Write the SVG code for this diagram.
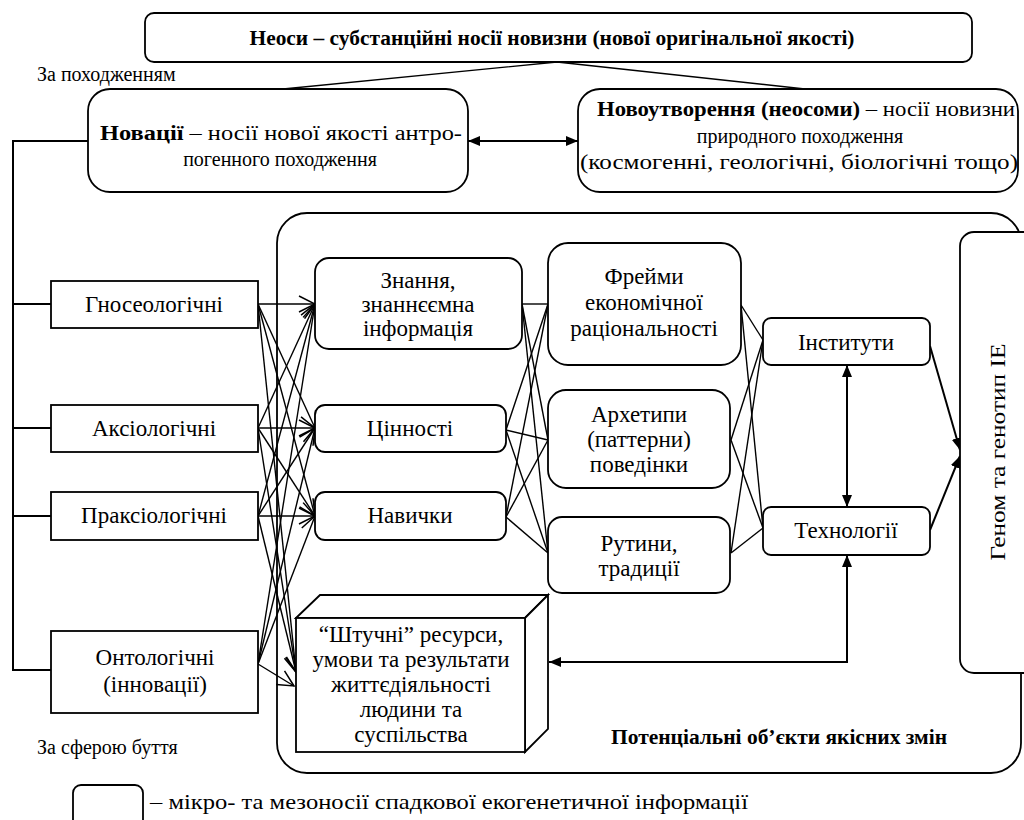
<svg xmlns="http://www.w3.org/2000/svg" width="1024" height="820" viewBox="0 0 1024 820" font-family="'Liberation Serif', 'Times New Roman', serif">
<style>
.b{fill:#fff;stroke:#000;stroke-width:1.8}
.t{font-family:"Liberation Serif","Times New Roman",serif;font-size:20px;fill:#000}
.m{font-size:23px}
.c{text-anchor:middle}
.bd{font-weight:bold}
.ln{fill:none;stroke:#000;stroke-width:1.4}
.lk{fill:none;stroke:#000;stroke-width:2}
</style>
<defs>
<marker id="oa" markerWidth="18" markerHeight="18" refX="17" refY="9" orient="auto" markerUnits="userSpaceOnUse"><path d="M1,1 L17,9 L1,17" fill="none" stroke="#000" stroke-width="1.5"/></marker>
<marker id="fa" markerWidth="12" markerHeight="10" refX="12" refY="5" orient="auto-start-reverse" markerUnits="userSpaceOnUse"><path d="M0,0 L12,5 L0,10 z" fill="#000"/></marker>
</defs>
<rect width="1024" height="820" fill="#fff"/>

<g id="container">
<rect x="277" y="213" width="744" height="560" rx="30" class="b" stroke-width="2"/>
<text x="779" y="744" class="t c bd" textLength="336" lengthAdjust="spacingAndGlyphs">Потенціальні об’єкти якісних змін</text>
</g>

<g id="connectors">
<path class="ln" d="M557,62 L283,89 M557,62 L805,89"/>
<path class="lk" d="M88,141 H13 V670 H51 M13,304 H51 M13,428 H51 M13,516 H51"/>
<line x1="468" y1="141" x2="578" y2="141" class="lk" marker-start="url(#fa)" marker-end="url(#fa)"/>
<g class="ln" marker-end="url(#oa)">
<line x1="258" y1="304" x2="315" y2="304"/>
<line x1="258" y1="304" x2="315" y2="428"/>
<line x1="258" y1="304" x2="315" y2="516"/>
<line x1="258" y1="304" x2="296" y2="672"/>
<line x1="258" y1="428" x2="315" y2="304"/>
<line x1="258" y1="428" x2="315" y2="428"/>
<line x1="258" y1="428" x2="315" y2="516"/>
<line x1="258" y1="428" x2="296" y2="672"/>
<line x1="258" y1="516" x2="315" y2="304"/>
<line x1="258" y1="516" x2="315" y2="428"/>
<line x1="258" y1="516" x2="315" y2="516"/>
<line x1="258" y1="516" x2="296" y2="672"/>
<line x1="258" y1="664" x2="315" y2="304"/>
<line x1="258" y1="664" x2="315" y2="428"/>
<line x1="258" y1="664" x2="315" y2="516"/>
<line x1="258" y1="664" x2="294" y2="686"/>
</g>
<g class="ln">
<line x1="522" y1="304" x2="548" y2="304"/>
<line x1="522" y1="304" x2="548" y2="440"/>
<line x1="522" y1="304" x2="548" y2="553"/>
<line x1="506" y1="430" x2="548" y2="304"/>
<line x1="506" y1="430" x2="548" y2="440"/>
<line x1="506" y1="430" x2="548" y2="553"/>
<line x1="506" y1="517" x2="548" y2="304"/>
<line x1="506" y1="517" x2="548" y2="440"/>
<line x1="506" y1="517" x2="548" y2="553"/>
<line x1="741" y1="305" x2="763" y2="340"/>
<line x1="741" y1="305" x2="763" y2="528"/>
<line x1="731" y1="440" x2="763" y2="340"/>
<line x1="731" y1="440" x2="763" y2="528"/>
<line x1="731" y1="553" x2="763" y2="340"/>
<line x1="731" y1="553" x2="763" y2="528"/>
</g>
<line x1="847" y1="365" x2="847" y2="507" class="lk" marker-start="url(#fa)" marker-end="url(#fa)"/>
<line x1="930" y1="346" x2="960" y2="450" class="lk" marker-end="url(#fa)"/>
<line x1="930" y1="530" x2="960" y2="456" class="lk" marker-end="url(#fa)"/>
<path d="M847,555 V662 H549" class="lk" marker-start="url(#fa)" marker-end="url(#fa)"/>
</g>

<g id="n-neosy">
<rect x="145" y="13" width="827" height="49" rx="9" class="b"/>
<text x="552" y="45" class="t c bd" textLength="605" lengthAdjust="spacingAndGlyphs">Неоси – субстанційні носії новизни (нової оригінальної якості)</text>
</g>
<text x="37" y="81" class="t">За походженням</text>

<g id="n-novatsii">
<rect x="88" y="89" width="380" height="103" rx="22" class="b"/>
<text x="100" y="140" class="t" textLength="362" lengthAdjust="spacingAndGlyphs"><tspan class="bd">Новації</tspan> – носії нової якості антро-</text>
<text x="280" y="166" class="t c">погенного походження</text>
</g>

<g id="n-novoutvorennia">
<rect x="578" y="89" width="440" height="103" rx="22" class="b"/>
<text x="806" y="116" class="t c" font-size="21" style="font-size:21px" textLength="418" lengthAdjust="spacingAndGlyphs"><tspan class="bd">Новоутворення (неосоми)</tspan> – носії новизни</text>
<text x="800" y="143" class="t c">природного походження</text>
<text x="799" y="169" class="t c" style="font-size:21px" textLength="438" lengthAdjust="spacingAndGlyphs">(космогенні, геологічні, біологічні тощо)</text>
</g>

<g id="n-gnos"><rect x="51" y="281" width="207" height="47" class="b"/><text x="154" y="312" class="t m c">Гносеологічні</text></g>
<g id="n-aks"><rect x="51" y="405" width="207" height="47" class="b"/><text x="154" y="436" class="t m c">Аксіологічні</text></g>
<g id="n-praks"><rect x="51" y="492" width="207" height="48" class="b"/><text x="154" y="523" class="t m c">Праксіологічні</text></g>
<g id="n-ont"><rect x="51" y="631" width="207" height="82" class="b"/><text x="155" y="665" class="t m c">Онтологічні</text><text x="155" y="692" class="t m c">(інновації)</text></g>

<g id="n-znannia"><rect x="315" y="258" width="207" height="91" rx="14" class="b"/>
<text x="418" y="288" class="t m c">Знання,</text><text x="418" y="312" class="t m c">знаннєємна</text><text x="418" y="336" class="t m c">інформація</text></g>
<g id="n-tsinnosti"><rect x="315" y="405" width="191" height="47" rx="10" class="b"/><text x="410" y="436" class="t m c">Цінності</text></g>
<g id="n-navychky"><rect x="315" y="492" width="191" height="48" rx="10" class="b"/><text x="410" y="523" class="t m c">Навички</text></g>

<g id="n-shtuchni">
<polygon points="296,618 320,595 548,595 525,618" class="b"/>
<polygon points="525,618 548,595 548,729 525,752" class="b"/>
<rect x="296" y="618" width="229" height="134" class="b" stroke-width="2.6"/>
<text x="411" y="642" class="t m c">“Штучні” ресурси,</text>
<text x="411" y="667" class="t m c">умови та результати</text>
<text x="411" y="692" class="t m c">життєдіяльності</text>
<text x="411" y="717" class="t m c">людини та</text>
<text x="411" y="742" class="t m c">суспільства</text>
</g>

<g id="n-freimy"><rect x="548" y="243" width="193" height="122" rx="20" class="b"/>
<text x="644" y="284" class="t m c">Фрейми</text><text x="644" y="310" class="t m c">економічної</text><text x="644" y="336" class="t m c">раціональності</text></g>
<g id="n-arkhetypy"><rect x="548" y="390" width="182" height="98" rx="18" class="b"/>
<text x="639" y="422" class="t m c">Архетипи</text><text x="639" y="447" class="t m c">(паттерни)</text><text x="639" y="472" class="t m c">поведінки</text></g>
<g id="n-rutyny"><rect x="548" y="517" width="182" height="76" rx="14" class="b"/>
<text x="639" y="551" class="t m c">Рутини,</text><text x="639" y="576" class="t m c">традиції</text></g>

<g id="n-instytuty"><rect x="763" y="318" width="167" height="47" rx="8" class="b"/><text x="846" y="350" class="t m c">Інститути</text></g>
<g id="n-tekhnolohii"><rect x="763" y="507" width="167" height="48" rx="8" class="b"/><text x="846" y="538" class="t m c">Технології</text></g>

<g id="n-henom"><rect x="960" y="232" width="90" height="441" rx="14" class="b"/>
<text transform="translate(1005,452) rotate(-90)" class="t c" style="font-size:22px" textLength="217" lengthAdjust="spacingAndGlyphs">Геном та генотип ІЕ</text></g>

<text x="37" y="754" class="t">За сферою буття</text>

<g id="legend">
<rect x="73" y="785" width="70" height="50" rx="8" class="b" stroke-width="2"/>
<text x="150" y="809" class="t" style="font-size:21.5px" textLength="598" lengthAdjust="spacingAndGlyphs">– мікро- та мезоносії спадкової екогенетичної інформації</text>
</g>
</svg>
